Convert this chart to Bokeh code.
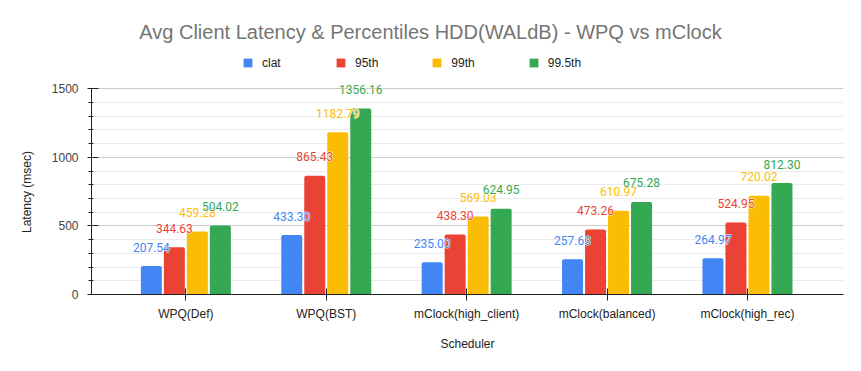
import math
from bokeh.plotting import figure
from bokeh.layouts import row
from bokeh.models import (ColumnDataSource, Range1d, FixedTicker,
                          LabelSet, Label, Legend, LegendItem)
from bokeh.core.properties import value
from bokeh.transform import dodge
from bokeh.embed import file_html
from bokeh.resources import INLINE

categories = ["WPQ(Def)", "WPQ(BST)", "mClock(high_client)", "mClock(balanced)", "mClock(high_rec)"]
series_names = ["clat", "95th", "99th", "99.5th"]
clat = [207.54, 433.30, 235.00, 257.63, 264.97]
p95 = [344.63, 865.43, 438.30, 473.26, 524.95]
p99 = [459.28, 1182.79, 569.03, 610.97, 720.02]
p995 = [504.02, 1356.16, 624.95, 675.28, 812.30]
y_major_ticks = [0, 500, 1000, 1500]
y_minor_ticks = [100, 200, 300, 400, 600, 700, 800, 900, 1100, 1200, 1300, 1400]

colors = ["#4285F4", "#EA4335", "#FBBC04", "#34A853"]
series = [clat, p95, p99, p995]
keys = ["s0", "s1", "s2", "s3"]

data = {"x": list(range(len(categories)))}
for k, s in zip(keys, series):
    data[k] = s
    data[k + "_t"] = ["%.2f" % v for v in s]
src = ColumnDataSource(data)

FONT = "Liberation Sans"

# layout constants (pixels)
LEFT_W = 40
FIG_H = 355
FRAME_BOTTOM = 294          # pixel row of value 0
PX_1500 = 294 - 88.3        # pixel height of 1500
y_top = 1500 * FRAME_BOTTOM / PX_1500

# ---- left strip holding the y axis title ----
pl = figure(width=LEFT_W, height=FIG_H, output_backend="svg", toolbar_location=None,
            x_range=Range1d(0, LEFT_W), y_range=Range1d(FRAME_BOTTOM, 0),
            x_axis_type=None, y_axis_type=None, min_border_left=0, min_border_right=0,
            min_border_top=0, min_border_bottom=FIG_H - FRAME_BOTTOM)
pl.outline_line_color = None
pl.grid.grid_line_color = None
pl.text(x=[26.5], y=[191.5], text=["Latency (msec)"], angle=math.pi / 2,
        text_align="center", text_baseline="middle",
        text_font=value(FONT), text_font_size="12px", text_color="#222222")

# ---- main plot ----
p = figure(width=845 - LEFT_W, height=FIG_H, output_backend="svg", toolbar_location=None,
           x_range=Range1d(-0.672, 4.684), y_range=Range1d(0, y_top),
           min_border_left=91 - LEFT_W, min_border_right=2, min_border_top=0,
           min_border_bottom=FIG_H - FRAME_BOTTOM)
p.outline_line_color = None

offsets = [-0.2457, -0.0819, 0.0819, 0.2457]
bar_w = 0.1496
renderers = []
for k, c, off in zip(keys, colors, offsets):
    r = p.vbar(x=dodge("x", off), top=k, width=bar_w, source=src,
               fill_color=c, line_color=None, border_radius=(2, 2, 0, 0))
    renderers.append(r)
for k, c, off in zip(keys, colors, offsets):
    halo = LabelSet(x=dodge("x", off), y=k, text=k + "_t", source=src,
                    y_offset=19, text_align="center", text_baseline="middle",
                    text_font=value("Roboto"), text_font_size=value("12px"),
                    text_color="white", text_outline_color="white")
    p.add_layout(halo)
    ls = LabelSet(x=dodge("x", off), y=k, text=k + "_t", source=src,
                  y_offset=19, text_align="center", text_baseline="middle",
                  text_font=value("Roboto"), text_font_size=value("12px"), text_color=c)
    p.add_layout(ls)

# axes
p.xaxis.ticker = FixedTicker(ticks=list(range(len(categories))))
p.xaxis.major_label_overrides = {i: c for i, c in enumerate(categories)}
p.xaxis.minor_tick_line_color = None
p.xaxis.major_tick_in = 6
p.xaxis.major_tick_out = 6
p.xaxis.major_tick_line_color = "#222222"
p.xaxis.axis_line_color = "#222222"
p.xaxis.major_label_standoff = 6
p.xaxis.axis_label = "Scheduler"
p.xaxis.axis_label_standoff = 13

p.yaxis.ticker = FixedTicker(ticks=y_major_ticks, minor_ticks=y_minor_ticks)
p.yaxis.bounds = (0, 1500)
p.yaxis.major_tick_in = 7
p.yaxis.major_tick_out = 4
p.yaxis.minor_tick_in = 2
p.yaxis.minor_tick_out = 3
p.yaxis.major_tick_line_color = "#222222"
p.yaxis.minor_tick_line_color = "#222222"
p.yaxis.axis_line_color = "#222222"
p.yaxis.major_label_standoff = 9

for ax in (p.xaxis, p.yaxis):
    ax.major_label_text_font = FONT
    ax.major_label_text_font_size = "12px"
    ax.major_label_text_color = "#444444"
    ax.axis_label_text_font = FONT
    ax.axis_label_text_font_size = "12px"
    ax.axis_label_text_font_style = "normal"
    ax.axis_label_text_color = "#222222"
p.xaxis.major_label_text_color = "#222222"

p.xgrid.grid_line_color = None
p.ygrid.grid_line_color = "#cccccc"
p.ygrid.minor_grid_line_color = "#ebebeb"

# title (inside the tall frame, screen units relative to frame bottom-left)
title = Label(x=430 - 91, y=FRAME_BOTTOM - 31.5, x_units="screen", y_units="screen",
              text="Avg Client Latency & Percentiles HDD(WALdB) - WPQ vs mClock",
              text_align="center", text_baseline="alphabetic",
              text_font=FONT, text_font_size="20px", text_color="#757575")
p.add_layout(title)

# legend
legend = Legend(items=[LegendItem(label=n, renderers=[r]) for n, r in zip(series_names, renderers)],
                orientation="horizontal", location=(242 - 91, FRAME_BOTTOM - 62.8 - 7),
                glyph_width=11, glyph_height=11, label_height=11, label_standoff=9,
                spacing=53, padding=0, margin=0, border_line_color=None,
                background_fill_alpha=0,
                label_text_font=FONT, label_text_font_size="12px", label_text_color="#222222")
p.add_layout(legend)

layout = row(pl, p)
open("out.html", "w").write(file_html(layout, INLINE))
